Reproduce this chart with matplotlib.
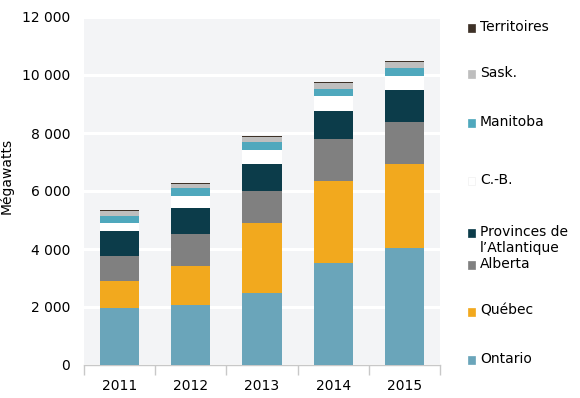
import numpy as np
import matplotlib
matplotlib.use("Agg")
import matplotlib.pyplot as plt
from matplotlib.patches import Rectangle
from matplotlib.ticker import FuncFormatter

# Capacity by province (MW)
years = ["2011", "2012", "2013", "2014", "2015"]
ontario = [1976, 2058, 2483, 3506, 4046]
quebec = [920, 1345, 2402, 2838, 2874]
alberta = [873, 1114, 1115, 1460, 1460]
atlantique = [862, 907, 920, 942, 1092]
cb = [276, 414, 506, 517, 494]
manitoba = [241, 254, 264, 264, 276]
sask = [172, 166, 183, 183, 195]
territoires = [35, 35, 35, 35, 35]

series = [
    ("Ontario", ontario, "#6aa5ba"),
    ("Québec", quebec, "#f2a91e"),
    ("Alberta", alberta, "#808080"),
    ("Provinces de\nl\u2019Atlantique", atlantique, "#0c3c4a"),
    ("C.-B.", cb, "#ffffff"),
    ("Manitoba", manitoba, "#4fa8bd"),
    ("Sask.", sask, "#bebebe"),
    ("Territoires", territoires, "#3d3127"),
]

plt.rcParams["font.family"] = "DejaVu Sans"
plt.rcParams["font.size"] = 10

fig = plt.figure(figsize=(5.8, 3.98), dpi=100)
ax = fig.add_axes([84 / 580, 1 - 365 / 398, (440 - 84) / 580, (365 - 17) / 398])
ax.set_facecolor("#f3f4f6")

x = np.arange(len(years))
bottom = np.zeros(len(years))
for name, vals, col in series:
    ax.bar(x, vals, width=0.55, bottom=bottom, color=col, zorder=3)
    bottom += np.array(vals)

ax.set_ylim(0, 12000)
ax.set_xlim(-0.5, 4.5)
ax.set_yticks(range(0, 12001, 2000))
ax.yaxis.set_major_formatter(FuncFormatter(lambda v, p: f"{int(v):,}".replace(",", " ")))
ax.grid(axis="y", color="white", linewidth=2.2, zorder=1)
ax.tick_params(axis="y", length=0, pad=10, labelsize=10)

ax.set_xticks(x)
ax.set_xticklabels(years)
ax.set_xticks(np.arange(-0.5, 5, 1), minor=True)
ax.tick_params(axis="x", which="major", length=0, pad=10, labelsize=10)
ax.tick_params(axis="x", which="minor", length=7, color="#c8c8c8", width=1)

for s in ["top", "right", "left"]:
    ax.spines[s].set_visible(False)
ax.spines["bottom"].set_color("#c8c8c8")
ax.spines["bottom"].set_linewidth(1)

ax.set_ylabel("Mégawatts", fontsize=10)
ax.yaxis.set_label_coords(-0.198, 0.543)

# legend drawn by hand (uneven spacing as in the original)
leg_y = {"Territoires": 28, "Sask.": 74, "Manitoba": 123, "C.-B.": 181,
         "Provinces de\nl\u2019Atlantique": 233, "Alberta": 265,
         "Québec": 312, "Ontario": 360}
for name, vals, col in series:
    yp = leg_y[name]
    edge = "#f0f0f0" if col == "#ffffff" else col
    fig.patches.append(Rectangle((468 / 580, 1 - (yp + 4) / 398), 7 / 580, 8 / 398,
                                 transform=fig.transFigure, facecolor=col,
                                 edgecolor=edge, linewidth=0.5))
    fig.text(480 / 580, 1 - (yp - 8) / 398, name, ha="left", va="top",
             fontsize=10, linespacing=1.15)

fig.savefig("out.png", dpi=100)
